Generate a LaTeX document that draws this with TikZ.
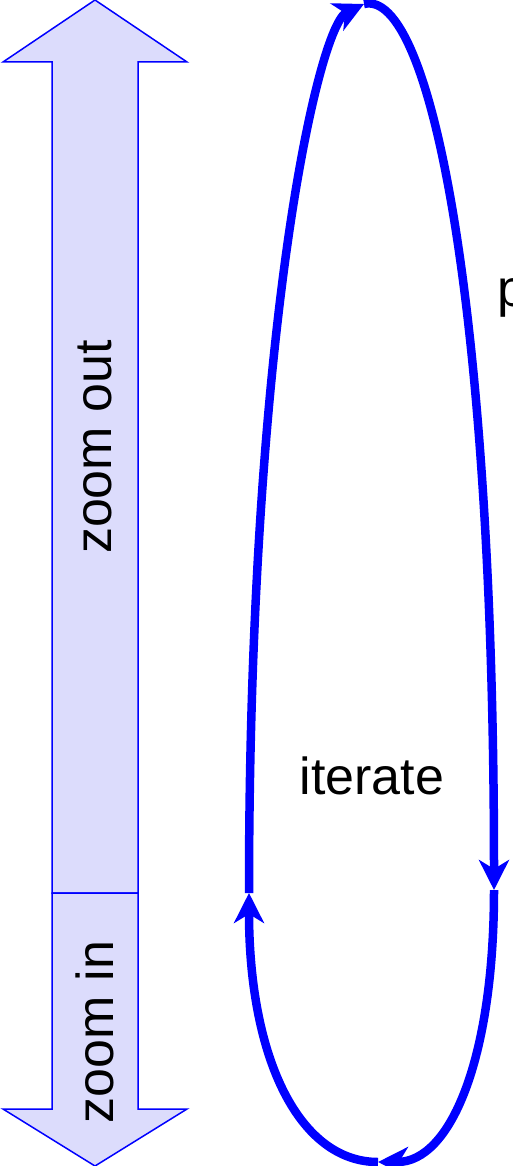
\documentclass[tikz,border=0pt]{standalone}
\usepackage{fontspec}
\setmainfont{Liberation Sans}
\usetikzlibrary{arrows.meta}
\definecolor{zoomfill}{HTML}{DCDCFC}
\tikzset{
    blockarrow/.style={draw=blue,fill=zoomfill,line width=1.5pt,line join=miter},
    label/.style={font=\fontsize{52}{60}\selectfont,inner sep=0pt},
    loopedge/.style={draw=blue,line width=8.5pt,-{Stealth[length=30pt,width=30pt,inset=9pt]}},
}

\begin{document}
\begin{tikzpicture}[x=1pt,y=-1pt]
    \useasboundingbox (0,0) rectangle (512,1166);

    % block arrows on the left
    \path[blockarrow] (95,0) -- (187,62) -- (138,62) -- (138,893) -- (52,893) -- (52,62) -- (3,62) -- cycle;
    \path[blockarrow] (52,893) -- (138,893) -- (138,1109) -- (187,1109) -- (95,1166) -- (3,1109) -- (52,1109) -- cycle;
    \node[label,rotate=90] (out) at (95,447) {zoom out};
    \node[label,rotate=90] (in) at (95,1032) {zoom in};

    % loop points
    \coordinate (lm) at (249,893);
    \coordinate (rm) at (494,890);
    \coordinate (top) at (364,4);
    \coordinate (bot) at (378,1162);

    \path[loopedge] (lm) .. controls (249,330) and (318,26) .. (top);
    \path[loopedge] (top) .. controls (430,-12) and (494,300) .. (rm);
    \path[loopedge] (rm) .. controls (494,1060) and (450,1162) .. (bot);
    \path[loopedge] (bot) .. controls (300,1162) and (249,1060) .. (lm);

    \node[label] (iter) at (372,776) {iterate};
    \node[label,anchor=base west] (p) at (497,306) {p};
\end{tikzpicture}
\end{document}
